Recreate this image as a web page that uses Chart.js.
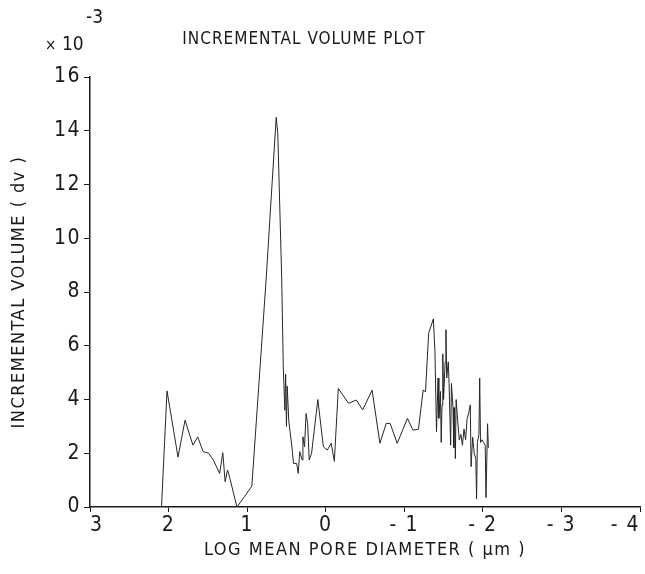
<!DOCTYPE html>
<html>
<head>
<meta charset="utf-8">
<script src="https://cdn.jsdelivr.net/npm/chart.js@4"></script>
<style>
  html, body { margin: 0; padding: 0; background: #fff; }
  #wrap { width: 645px; height: 574px; }
</style>
</head>
<body>
<div id="wrap"><canvas id="chart" width="645" height="574"></canvas></div>
<script>
// log mean pore diameter (um), read left to right off the plot
const logDiameter = [
  3.00, 2.09, 2.02, 1.88, 1.79, 1.69, 1.63, 1.56, 1.49, 1.43, 1.35, 1.31, 1.28, 1.25, 1.23,
  1.13, 1.03, 0.94, 0.76, 0.63, 0.61, 0.56, 0.54, 0.52, 0.51, 0.50, 0.49, 0.47, 0.43, 0.41,
  0.37, 0.35, 0.33, 0.30, 0.29, 0.27, 0.25, 0.23, 0.21, 0.18, 0.10, 0.03, -0.02, -0.07, -0.11,
  -0.16, -0.29, -0.39, -0.47, -0.59, -0.69, -0.77, -0.82, -0.91, -1.04, -1.11, -1.18, -1.24, -1.27, -1.31,
  -1.37, -1.39, -1.41, -1.43, -1.44, -1.46, -1.47, -1.48, -1.49, -1.50, -1.52, -1.53, -1.54, -1.56, -1.57,
  -1.59, -1.60, -1.62, -1.63, -1.64, -1.65, -1.66, -1.68, -1.70, -1.72, -1.74, -1.76, -1.78, -1.80, -1.82,
  -1.84, -1.85, -1.87, -1.89, -1.91, -1.92, -1.93, -1.95, -1.96, -1.97, -1.99, -2.01, -2.03, -2.04, -2.06,
  -2.07
];
// incremental volume dv (x 10^-3)
const incVolume = [
  0, 0, 4.32, 1.86, 3.23, 2.30, 2.61, 2.06, 2.00, 1.75, 1.25, 2.02, 0.94, 1.38, 1.19,
  0, 0.40, 0.78, 8.40, 14.50, 13.90, 8.50, 5.20, 3.60, 4.95, 3.00, 4.50, 3.20, 2.24, 1.62,
  1.62, 1.25, 2.06, 1.75, 2.61, 2.24, 3.48, 3.11, 1.75, 2.00, 4.00, 2.24, 2.12, 2.37, 1.70,
  4.41, 3.86, 3.98, 3.61, 4.35, 2.37, 3.11, 3.11, 2.37, 3.30, 2.86, 2.89, 4.35, 4.29, 6.46,
  7.00, 5.80, 2.80, 4.80, 3.30, 4.30, 2.40, 3.80, 5.70, 4.00, 5.40, 6.60, 4.80, 5.40, 4.60,
  2.30, 4.60, 3.70, 2.20, 3.70, 1.80, 4.00, 3.20, 2.50, 2.70, 2.30, 2.90, 2.50, 3.30, 3.50,
  3.80, 1.50, 2.60, 2.00, 1.80, 0.30, 2.40, 2.70, 4.80, 2.40, 2.50, 2.40, 2.30, 0.35, 3.10,
  2.20
];
const yTicks = [0, 2, 4, 6, 8, 10, 12, 14, 16];
const xTicks = [-4, -3, -2, -1, 0, 1, 2, 3];

const plotTitle = 'INCREMENTAL VOLUME PLOT';
const xTitle = 'LOG MEAN PORE DIAMETER ( \u00b5m )';
const yTitle = 'INCREMENTAL VOLUME ( dv )';

const FONT = "'DejaVu Sans Condensed', sans-serif";
const INK = '#1a1a1a';

// plotter lettering is spaced out a little; applies to every label
const spacedText = {
  id: 'spacedText',
  beforeDraw(chart) { chart.ctx.letterSpacing = '1.5px'; },
  afterDraw(chart) {
    const ctx = chart.ctx;
    ctx.save();
    ctx.fillStyle = INK;
    ctx.textBaseline = 'alphabetic';
    ctx.letterSpacing = '1px';
    ctx.font = '17px ' + FONT;
    ctx.textAlign = 'center';
    ctx.fillText(plotTitle, 304, 44);
    ctx.letterSpacing = '0px';
    ctx.textAlign = 'left';
    ctx.font = '15px ' + FONT;
    ctx.fillText('\u00d7', 45, 50);
    ctx.font = '19px ' + FONT;
    ctx.fillText('10', 62, 50);
    ctx.fillText('-3', 86, 23);
    ctx.restore();
    ctx.letterSpacing = '0px';
  }
};

const ctx = document.getElementById('chart').getContext('2d');
const chart = new Chart(ctx, {
  type: 'scatter',
  data: {
    datasets: [{
      label: 'dv',
      data: logDiameter.map((x, i) => ({x: x, y: incVolume[i]})),
      showLine: true,
      borderColor: '#262626',
      borderWidth: 1,
      pointRadius: 0,
      tension: 0,
      fill: false
    }]
  },
  options: {
    responsive: false,
    animation: false,
    layout: {padding: {top: 77, right: 5, bottom: 0, left: 0}},
    plugins: {
      legend: {display: false},
      tooltip: {enabled: false},
      title: {display: false}
    },
    scales: {
      x: {
        type: 'linear',
        reverse: true,
        min: -4,
        max: 3,
        afterBuildTicks: (scale) => { scale.ticks = xTicks.map(v => ({value: v})); },
        afterFit: (scale) => { scale.height = 67; scale.paddingLeft = 0; scale.paddingRight = 0; },
        grid: {display: true, drawOnChartArea: false, drawTicks: true, tickLength: 5, color: INK},
        border: {display: true, color: INK, width: 1.5},
        ticks: {
          color: INK,
          font: {family: FONT, size: 21},
          padding: 1,
          maxRotation: 0,
          align: 'inner',
          callback: (v) => v < 0 ? '- ' + Math.abs(v) : String(v)
        },
        title: {
          display: true,
          text: xTitle,
          color: INK,
          font: {family: FONT, size: 18},
          padding: {top: 0, bottom: 13}
        }
      },
      y: {
        type: 'linear',
        min: 0,
        max: 16,
        afterBuildTicks: (scale) => { scale.ticks = yTicks.map(v => ({value: v})); },
        afterFit: (scale) => { scale.width = 90; },
        grid: {display: true, drawOnChartArea: false, drawTicks: true, tickLength: 6, color: INK},
        border: {display: true, color: INK, width: 1.5},
        ticks: {
          color: INK,
          font: {family: FONT, size: 21},
          padding: 3
        },
        title: {
          display: true,
          text: yTitle,
          color: INK,
          font: {family: FONT, size: 18},
          padding: {top: 9, bottom: 9}
        }
      }
    }
  },
  plugins: [spacedText]
});
</script>
</body>
</html>
